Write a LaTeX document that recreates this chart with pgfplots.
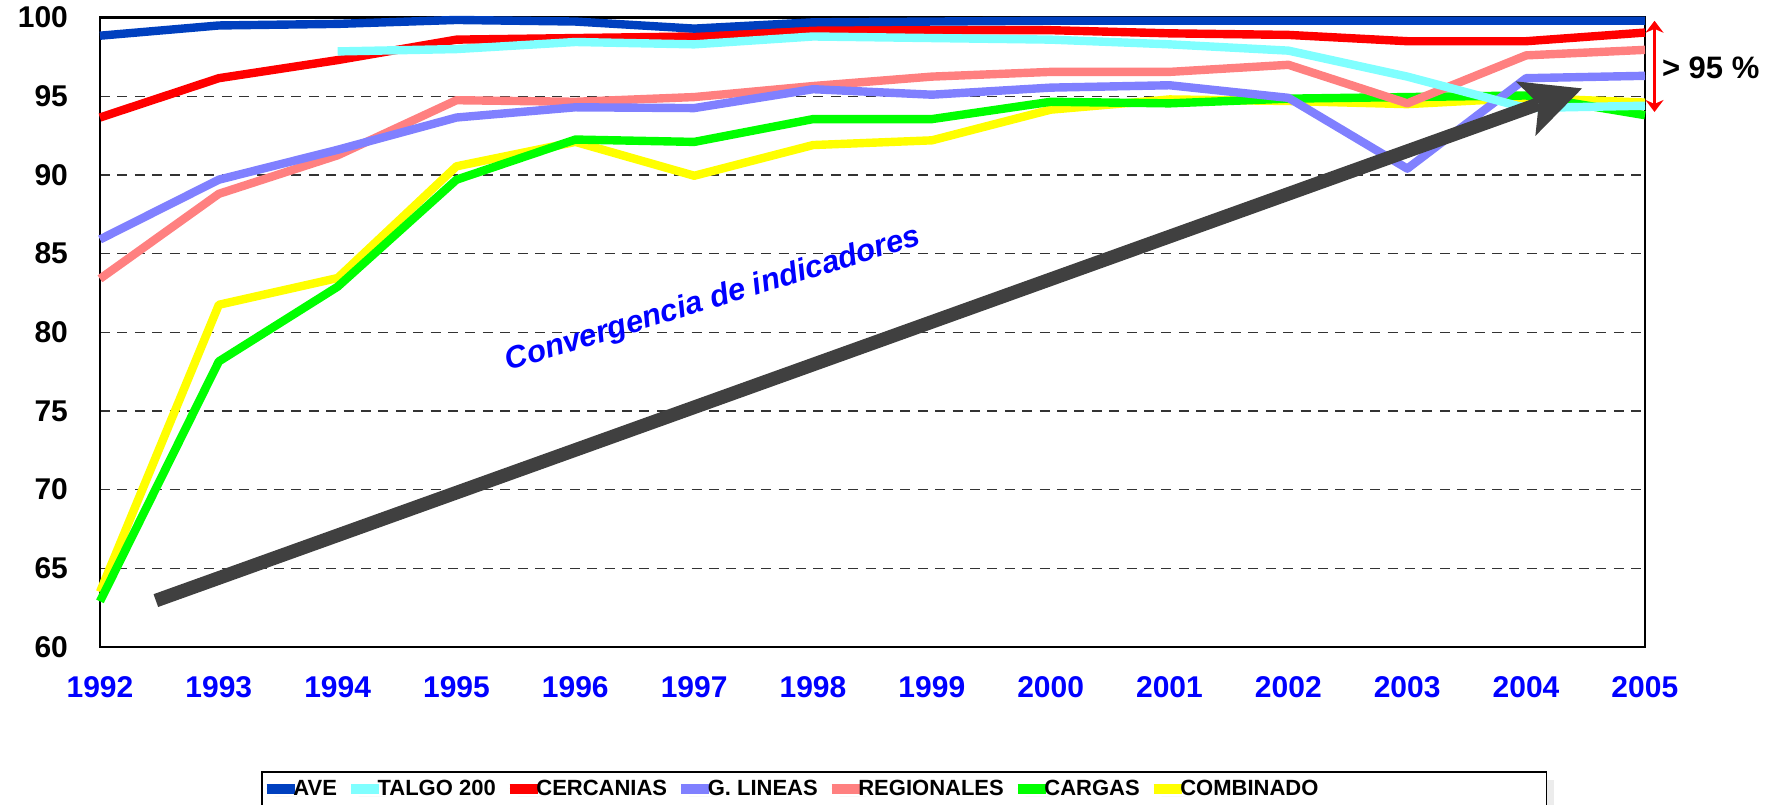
\documentclass[border=0pt]{standalone}
\usepackage{fontspec}
\setmainfont{Liberation Sans}
\usepackage{pgfplots}
\pgfplotsset{compat=1.18}
\usepackage{pgfplotstable}
\usetikzlibrary{arrows.meta,shadows}

\definecolor{cAVE}{HTML}{0040BF}
\definecolor{cTALGO}{HTML}{80FFFF}
\definecolor{cCERC}{HTML}{FF0000}
\definecolor{cGLIN}{HTML}{8080FF}
\definecolor{cREG}{HTML}{FF8080}
\definecolor{cCARG}{HTML}{00FF00}
\definecolor{cCOMB}{HTML}{FFFF00}
\definecolor{cArrow}{HTML}{404040}

\pgfplotstableread{
year ave talgo cerc glin reg carg comb
1992 98.85 nan   93.65 85.9  83.4  62.9  63.5
1993 99.5  nan   96.15 89.7  88.8  78.15 81.75
1994 99.6  97.85 97.3  91.6  91.25 82.9  83.45
1995 99.85 98.0  98.6  93.65 94.75 89.7  90.55
1996 99.75 98.45 98.7  94.3  94.65 92.25 92.1
1997 99.3  98.3  98.8  94.25 94.95 92.1  89.95
1998 99.7  98.8  99.2  95.45 95.65 93.55 91.9
1999 99.75 98.7  99.2  95.1  96.25 93.55 92.2
2000 99.8  98.6  99.2  95.55 96.55 94.65 94.15
2001 99.8  98.3  99.0  95.7  96.55 94.55 94.8
2002 99.8  97.9  98.9  94.9  97.0  94.85 94.7
2003 99.8  96.25 98.5  90.4  94.55 94.95 94.5
2004 99.8  94.25 98.5  96.15 97.6  95.05 94.9
2005 99.8  94.4  99.05 96.3  97.95 93.8  94.6
}\data

\begin{document}
\begin{tikzpicture}
\path[use as bounding box] (-50pt,-78.5pt) rectangle (839pt,323.5pt);
\begin{axis}[
  at={(0pt,0pt)}, anchor=south west,
  scale only axis, width=772.5pt, height=314.7pt,
  xmin=1992, xmax=2005, ymin=60, ymax=100,
  xtick={1992,...,2005}, ytick={60,65,...,100},
  ymajorgrids,
  grid style={black!80, line width=0.75pt, dash pattern=on 5pt off 3.7pt},
  axis line style={line width=1.2pt},
  major tick length=0pt,
  /pgf/number format/assume math mode=true,
  /pgf/number format/1000 sep={},
  xticklabel style={font=\fontsize{15}{15}\selectfont\bfseries, text=blue},
  yticklabel style={font=\fontsize{15}{15}\selectfont\bfseries},
  xticklabel shift=11pt, yticklabel shift=12.5pt,
  clip=false,
  unbounded coords=jump,
  legend columns=7,
  legend image code/.code={\path (0pt,0pt)--(13pt,0pt);
     \draw[#1,line width=5pt,line cap=butt,overlay] (0pt,0pt)--(14pt,0pt);},
  legend style={at={(0.1042,-0.197)}, anchor=north west, draw=black, line width=0.8pt,
    fill=white, inner xsep=2pt, inner ysep=3pt,
    font=\fontsize{11}{11}\selectfont\bfseries,
    nodes={inner xsep=0pt, inner ysep=1pt},
    /tikz/every odd column/.append style={column sep=0pt},
    /tikz/every even column/.append style={column sep=6.5pt},
    drop shadow={shadow xshift=4pt, shadow yshift=-4pt, fill=black!15, draw=none}},
]
\addplot[color=cCOMB, line width=4.2pt, line join=round, forget plot] table[x=year,y=comb] {\data};
\addplot[color=cCARG, line width=4.2pt, line join=round, forget plot] table[x=year,y=carg] {\data};
\addplot[color=cREG, line width=4.2pt, line join=round, forget plot] table[x=year,y=reg] {\data};
\addplot[color=cGLIN, line width=4.2pt, line join=round, forget plot] table[x=year,y=glin] {\data};
\addplot[color=cCERC, line width=4.2pt, line join=round, forget plot] table[x=year,y=cerc] {\data};
\addplot[color=cTALGO, line width=4.2pt, line join=round, forget plot] table[x=year,y=talgo] {\data};
\addplot[color=cAVE, line width=4.2pt, line join=round, forget plot] table[x=year,y=ave] {\data};

\addplot[color=cArrow, line width=6.8pt, forget plot,
  -{Stealth[length=30pt,width=29pt,inset=7pt,line width=0pt]}]
  coordinates {(1992.47,62.95) (2004.47,95.5)};

\addlegendimage{color=cAVE}\addlegendentry{AVE}
\addlegendimage{color=cTALGO}\addlegendentry{TALGO 200}
\addlegendimage{color=cCERC}\addlegendentry{CERCANIAS}
\addlegendimage{color=cGLIN}\addlegendentry{G. LINEAS}
\addlegendimage{color=cREG}\addlegendentry{REGIONALES}
\addlegendimage{color=cCARG}\addlegendentry{CARGAS}
\addlegendimage{color=cCOMB}\addlegendentry{\makebox[181pt][l]{COMBINADO}}

\node[rotate=17, text=blue, font=\fontsize{15.5}{15.5}\selectfont\bfseries\itshape]
  at (axis cs:1997.16,82.06) {Convergencia de indicadores};
\draw[cCERC, line width=1.5pt, {Stealth[length=6pt,width=9pt]}-{Stealth[length=6pt,width=9pt]}]
  (axis cs:2005.08,99.8) -- (axis cs:2005.08,94.0);
\node[anchor=west, inner sep=0pt, font=\fontsize{15.5}{15.5}\selectfont\bfseries]
  at (axis cs:2005.14,96.8) {> 95 \%};
\end{axis}
\end{tikzpicture}
\end{document}
